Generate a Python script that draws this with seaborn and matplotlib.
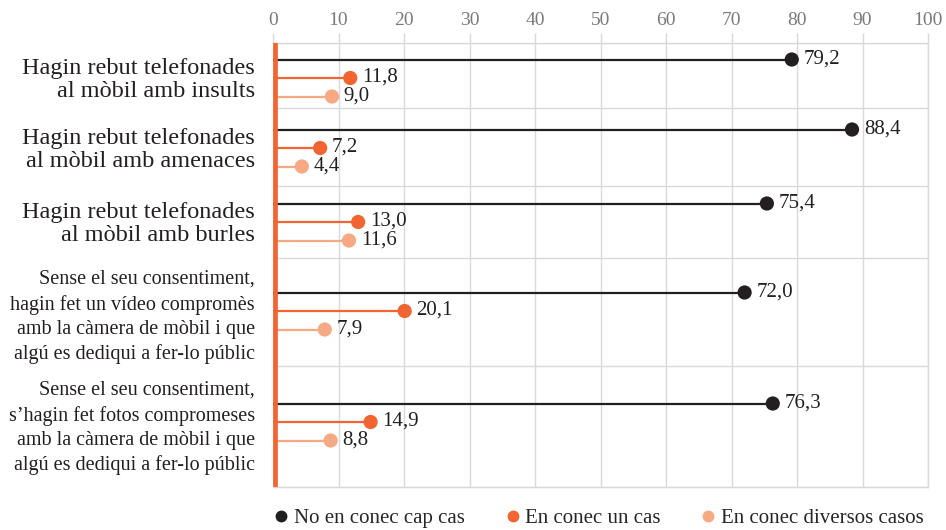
import numpy as np
import pandas as pd
import matplotlib.pyplot as plt
from matplotlib.lines import Line2D
import seaborn as sns

categories = [
    "Hagin rebut telefonades\nal mòbil amb insults",
    "Hagin rebut telefonades\nal mòbil amb amenaces",
    "Hagin rebut telefonades\nal mòbil amb burles",
    "Sense el seu consentiment,\nhagin fet un vídeo compromès\namb la càmera de mòbil i que\nalgú es dediqui a fer-lo públic",
    "Sense el seu consentiment,\ns’hagin fet fotos compromeses\namb la càmera de mòbil i que\nalgú es dediqui a fer-lo públic",
]
series = ["No en conec cap cas", "En conec un cas", "En conec diversos casos"]
no_cap_cas = [79.2, 88.4, 75.4, 72.0, 76.3]
un_cas = [11.8, 7.2, 13.0, 20.1, 14.9]
diversos = [9.0, 4.4, 11.6, 7.9, 8.8]
xticks = list(range(0, 101, 10))

colors = ["#231f20", "#f26531", "#f7a983"]
grid_col = "#d9d9d9"

# layout of the category bands (pixel-like units from the top of the plot)
edges = [0, 65, 143, 215, 323, 444]
centers = [35, 105, 179, 268, 379]
gap = 18.5

rows = []
for i, cat in enumerate(categories):
    for j, (s, vals) in enumerate(zip(series, [no_cap_cas, un_cas, diversos])):
        rows.append({"cat": cat, "series": s, "value": vals[i],
                     "y": centers[i] + (j - 1) * gap})
df = pd.DataFrame(rows)

sns.set_theme(style="white")
plt.rcParams["font.family"] = ["Liberation Serif", "DejaVu Serif"]

fig = plt.figure(figsize=(9.46, 5.30), dpi=100)
ax = fig.add_axes([273 / 946, 1 - 487 / 530, 655 / 946, 444 / 530])

# stems
for s, c in zip(series, colors):
    d = df[df.series == s]
    ax.hlines(d.y, 0, d.value, colors=c, lw=1.6, zorder=3)

sns.scatterplot(data=df, x="value", y="y", hue="series", palette=colors,
                s=105, edgecolor="none", legend=False, ax=ax, zorder=4)

for _, r in df.iterrows():
    ax.annotate(f"{r.value:.1f}".replace(".", ","), (r.value, r.y),
                xytext=(8.5, 0.5), textcoords="offset points",
                va="center", ha="left", fontsize=15, color="#231f20")

# orange base bar at zero
ax.axvline(0.3, color=colors[1], lw=3.4, zorder=5)

ax.set_xlim(0, 100)
ax.set_ylim(edges[-1], edges[0])
ax.set_xticks(xticks)
ax.set_xticklabels([str(t) for t in xticks])
ax.xaxis.tick_top()
ax.tick_params(axis="x", top=True, length=7, width=1, color=grid_col,
               labelsize=14, labelcolor="#7a7a7a", pad=3)
ax.set_yticks(edges)
ax.set_yticklabels([])
ax.tick_params(axis="y", length=0)
ax.grid(True, color=grid_col, lw=1)
ax.set_xlabel("")
ax.set_ylabel("")
for side in ["top", "right", "bottom"]:
    ax.spines[side].set_color(grid_col)
    ax.spines[side].set_linewidth(1)
ax.spines["left"].set_visible(False)

for i, cat in enumerate(categories):
    fs, ls, dy = (17.5, 1.1, -1.5) if i < 3 else (14.5, 1.38, -4.5)
    ax.annotate(cat, xy=(0, centers[i]), xycoords=("axes fraction", "data"),
                xytext=(-13, dy), textcoords="offset points", ha="right",
                va="center", multialignment="right", fontsize=fs,
                color="#231f20", linespacing=ls)

handles = [Line2D([], [], marker="o", ls="", color=c, markersize=7.5) for c in colors]
fig.legend(handles, series, loc="center left", bbox_to_anchor=(275 / 946, 0.022),
           ncol=3, frameon=False, fontsize=15, handletextpad=0.3,
           columnspacing=2.0, handlelength=0.6, borderpad=0, borderaxespad=0)

fig.savefig("out.png", dpi=100)
